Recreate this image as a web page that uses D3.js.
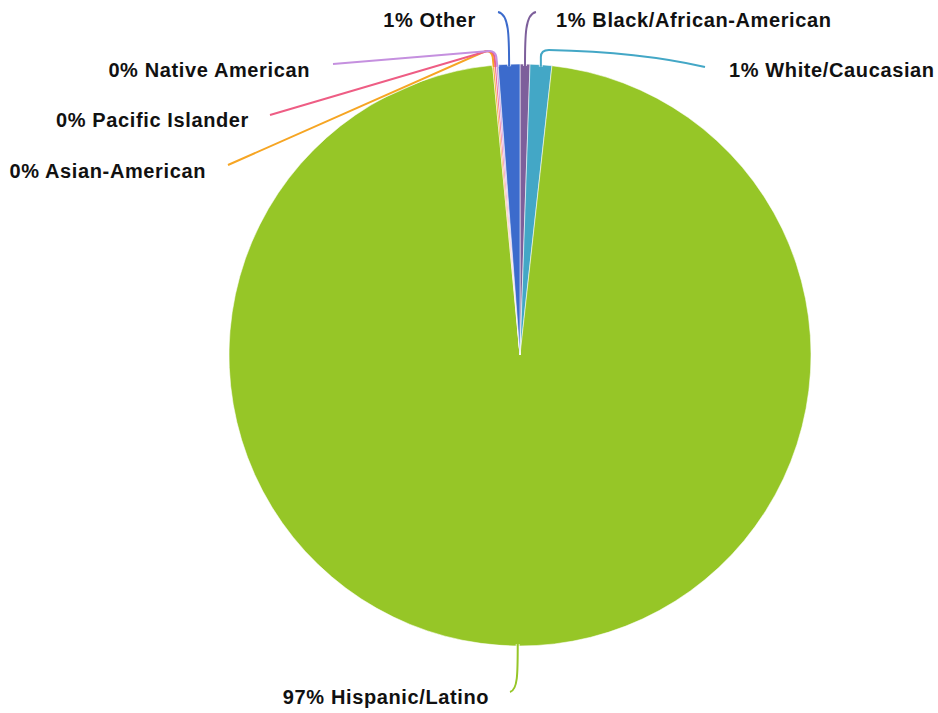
<!DOCTYPE html>
<html><head><meta charset="utf-8">
<script src="https://cdn.jsdelivr.net/npm/d3@7/dist/d3.min.js"></script>
<style>
html,body{margin:0;padding:0;background:#fff;}
text{font-family:"Liberation Sans",Arial,Helvetica,sans-serif;font-weight:bold;font-size:20px;fill:#111;letter-spacing:0.62px;}
</style></head>
<body><svg id="c" width="938" height="713"></svg>
<script>
const categories = ["Black/African-American","White/Caucasian","Hispanic/Latino","Asian-American","Pacific Islander","Native American","Other"];
const values = [0.55, 1.2, 96.75, 0.1, 0.1, 0.1, 1.2];
const colors = ["#7d5f9b","#43a7c6","#96c627","#f6a523","#ee5d84","#c590df","#3c6bcc"];
// label layout: anchor, label x, baseline y, leader end x, end y
const labelLayout = [
  {anchor:"start", x:556, y:27, ex:536, ey:12, kind:"upR"},
  {anchor:"start", x:729, y:77, ex:705, ey:67, kind:"white"},
  {anchor:"middle", x:386, y:704, ex:510, ey:692, kind:"down"},
  {anchor:"end", x:206, y:178, ex:228, ey:165, kind:"left"},
  {anchor:"end", x:249, y:127, ex:270, ey:115, kind:"left"},
  {anchor:"end", x:310, y:77, ex:333, ey:64, kind:"left"},
  {anchor:"end", x:476, y:27, ex:498, ey:12, kind:"upL"}
];
const cx = 520, cy = 355, R = 291;
const svg = d3.select("#c");
const total = d3.sum(values);
const data = categories.map((c,i)=>({cat:c, v:values[i], color:colors[i], lay:labelLayout[i]}));
const pie = d3.pie().sort(null).value(d=>d.v).startAngle(0).endAngle(2*Math.PI);
const arc = d3.arc().innerRadius(0).outerRadius(R);
const arcs = pie(data);
const g = svg.append("g").attr("transform",`translate(${cx},${cy})`);
g.selectAll("path.s").data(arcs).enter().append("path").attr("class","s")
  .attr("d",arc).attr("fill",d=>d.data.color)
  .attr("stroke","rgba(255,255,255,0.55)").attr("stroke-width",1);

function leader(d){
  const a = (d.startAngle+d.endAngle)/2;
  const sx = cx + Math.sin(a)*(R-2), sy = cy - Math.cos(a)*(R-2);
  const L = d.data.lay;
  const p = d3.path();
  p.moveTo(sx, sy);
  if (L.kind==="upR" || L.kind==="upL"){
    p.bezierCurveTo(sx, sy-30, sx, L.ey+2, L.ex, L.ey);
  } else if (L.kind==="white"){
    p.lineTo(sx, 57);
    p.quadraticCurveTo(sx, 50, sx+8, 50);
    p.quadraticCurveTo(640, 52, L.ex, L.ey);
  } else if (L.kind==="down"){
    p.bezierCurveTo(sx, sy+30, sx, L.ey-2, L.ex, L.ey);
  } else {
    p.lineTo(sx-1, 57);
    p.quadraticCurveTo(sx-2, 51, sx-8, 51);
    p.lineTo(L.ex, L.ey);
  }
  return p.toString();
}
const lg = svg.append("g");
lg.selectAll("path.h").data(arcs).enter().append("path").attr("class","h")
  .attr("d",leader).attr("fill","none").attr("stroke","rgba(255,255,255,0.7)").attr("stroke-width",4);
lg.selectAll("path.l").data(arcs).enter().append("path").attr("class","l")
  .attr("d",leader).attr("fill","none").attr("stroke",d=>d.data.color).attr("stroke-width",2);

svg.append("g").selectAll("text").data(arcs).enter().append("text")
  .attr("x",d=>d.data.lay.x).attr("y",d=>d.data.lay.y)
  .attr("text-anchor",d=>d.data.lay.anchor)
  .text(d=>Math.round(d.data.v/total*100)+"% "+d.data.cat);
</script></body></html>
